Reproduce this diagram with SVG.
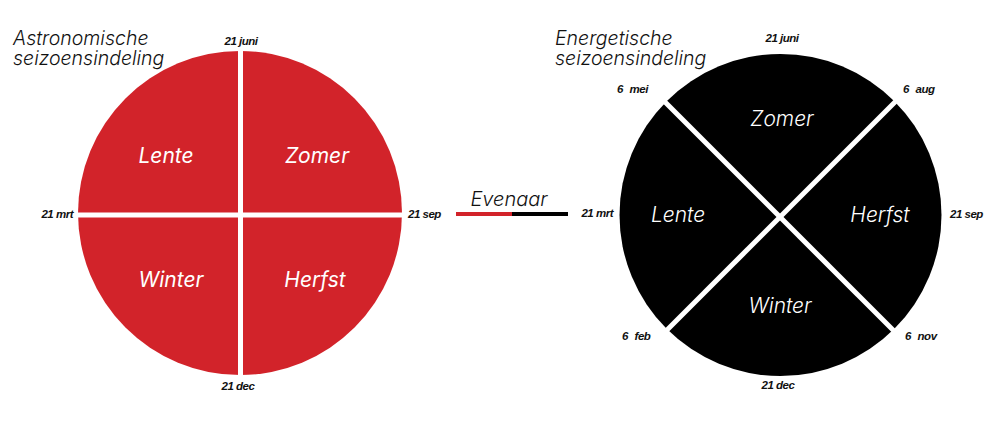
<svg xmlns="http://www.w3.org/2000/svg" width="1000" height="438" viewBox="0 0 1000 438">
  <style>
    .title { font-family: Inter, "Liberation Sans", sans-serif; font-weight: 300; font-style: italic; font-size: 19.5px; fill: #111; }
    .date { font-family: "Liberation Sans", Arial, sans-serif; font-weight: bold; font-style: italic; font-size: 11.5px; fill: #111; letter-spacing: -0.5px; }
    .season { font-family: Inter, "Liberation Sans", sans-serif; font-style: italic; font-size: 21px; fill: #fff; text-anchor: middle; }
    .season-l { font-weight: 400; }
    .season-r { font-weight: 300; }
    .divider { stroke: #fff; stroke-width: 5; fill: none; }
  </style>
  <rect width="1000" height="438" fill="#fff"/>

  <g id="astronomisch">
    <circle cx="240" cy="213" r="162" fill="#d2232a"/>
    <line class="divider" x1="240.5" y1="45" x2="240.5" y2="380"/>
    <line class="divider" x1="74" y1="215" x2="406" y2="215"/>
    <text class="title" x="13" y="45">Astronomische</text>
    <text class="title" x="13" y="65">seizoensindeling</text>
    <text class="season season-l" x="166" y="163">Lente</text>
    <text class="season season-l" x="317" y="163">Zomer</text>
    <text class="season season-l" x="171" y="287">Winter</text>
    <text class="season season-l" x="315" y="287">Herfst</text>
    <text class="date" x="241" y="45" text-anchor="middle">21 juni</text>
    <text class="date" x="73" y="218" text-anchor="end">21 mrt</text>
    <text class="date" x="408" y="218">21 sep</text>
    <text class="date" x="238" y="390" text-anchor="middle">21 dec</text>
  </g>

  <g id="evenaar">
    <text x="509" y="206" text-anchor="middle" style="font-family: Inter, 'Liberation Sans', sans-serif; font-weight: 300; font-style: italic; font-size: 20px; fill: #111;">Evenaar</text>
    <line x1="456" y1="214" x2="512" y2="214" stroke="#d2232a" stroke-width="4"/>
    <line x1="512" y1="214" x2="568" y2="214" stroke="#000" stroke-width="4"/>
  </g>

  <g id="energetisch">
    <circle cx="780.5" cy="215" r="161" fill="#000"/>
    <line class="divider" x1="663" y1="100" x2="897" y2="334"/>
    <line class="divider" x1="897" y1="100" x2="663" y2="334"/>
    <text class="title" x="555" y="45">Energetische</text>
    <text class="title" x="555" y="65">seizoensindeling</text>
    <text class="season season-r" x="782" y="126">Zomer</text>
    <text class="season season-r" x="678" y="222">Lente</text>
    <text class="season season-r" x="880" y="222">Herfst</text>
    <text class="season season-r" x="780" y="313">Winter</text>
    <text class="date" x="782" y="42" text-anchor="middle">21 juni</text>
    <text class="date" x="617" y="93" word-spacing="4">6 mei</text>
    <text class="date" x="903" y="93" word-spacing="4">6 aug</text>
    <text class="date" x="613" y="217" text-anchor="end">21 mrt</text>
    <text class="date" x="950" y="218">21 sep</text>
    <text class="date" x="622" y="340" word-spacing="4">6 feb</text>
    <text class="date" x="905" y="340" word-spacing="4">6 nov</text>
    <text class="date" x="778" y="389" text-anchor="middle">21 dec</text>
  </g>

  <g id="connectors"></g>
</svg>
